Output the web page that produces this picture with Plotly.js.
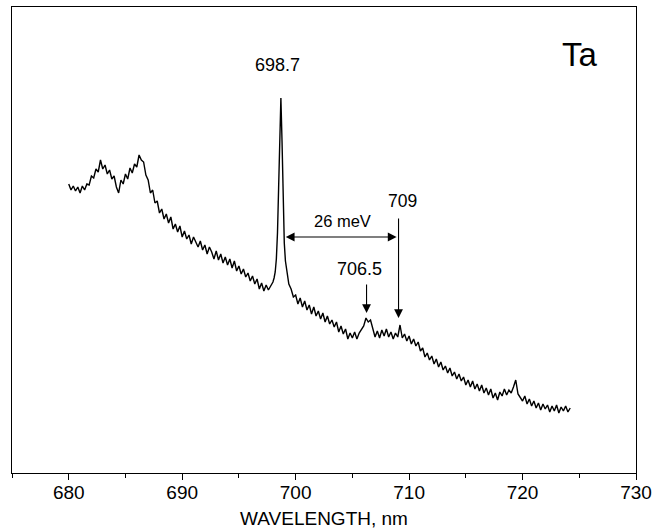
<!DOCTYPE html>
<html><head><meta charset="utf-8">
<script src="https://cdn.plot.ly/plotly-3.0.1.min.js"></script>
<style>body{margin:0;background:#fff}#plot{width:665px;height:531px}</style>
</head><body><div id="plot"></div>
<script>
const wavelength = [
680.0,680.2,680.4,680.6,680.8,681.0,681.2,681.4,681.6,681.8,682.0,682.2,682.4,682.6,682.8,683.0,683.2,683.4,683.6,683.8,
684.0,684.2,684.4,684.6,684.8,685.0,685.2,685.4,685.6,685.8,686.0,686.2,686.4,686.6,686.8,687.0,687.2,687.4,687.6,687.8,
688.0,688.2,688.4,688.6,688.8,689.0,689.2,689.4,689.6,689.8,690.0,690.2,690.4,690.6,690.8,691.0,691.2,691.4,691.6,691.8,
692.0,692.2,692.4,692.6,692.8,693.0,693.2,693.4,693.6,693.8,694.0,694.2,694.4,694.6,694.8,695.0,695.2,695.4,695.6,695.8,
696.0,696.2,696.4,696.6,696.8,697.0,697.2,697.4,697.6,697.8,698.0,698.1,698.2,698.3,698.4,698.5,698.6,698.7,698.8,698.9,
699.0,699.1,699.2,699.4,699.6,699.8,700.0,700.2,700.4,700.6,700.8,701.0,701.2,701.4,701.6,701.8,702.0,702.2,702.4,702.6,
702.8,703.0,703.2,703.4,703.6,703.8,704.0,704.2,704.4,704.6,704.8,705.0,705.2,705.4,705.6,705.8,706.0,706.2,706.4,706.6,
706.8,707.0,707.2,707.4,707.6,707.8,708.0,708.2,708.4,708.6,708.8,709.0,709.2,709.4,709.6,709.8,710.0,710.2,710.4,710.6,
710.8,711.0,711.2,711.4,711.6,711.8,712.0,712.2,712.4,712.6,712.8,713.0,713.2,713.4,713.6,713.8,714.0,714.2,714.4,714.6,
714.8,715.0,715.2,715.4,715.6,715.8,716.0,716.2,716.4,716.6,716.8,717.0,717.2,717.4,717.6,717.8,718.0,718.2,718.4,718.6,
718.8,719.0,719.2,719.4,719.6,719.8,720.0,720.2,720.4,720.6,720.8,721.0,721.2,721.4,721.6,721.8,722.0,722.2,722.4,722.6,
722.8,723.0,723.2,723.4,723.6,723.8,724.0,724.2
];
const intensity = [
289,283,287,282,286,280,287,283,289,288,297,295,304,301,313,304,308,299,303,294,
297,286,280,293,289,299,294,305,300,309,306,318,313,311,298,293,280,283,270,272,
260,264,254,259,250,256,244,249,241,247,236,242,234,238,229,236,231,226,232,223,
228,219,226,221,214,222,213,219,210,216,208,214,205,212,202,207,199,204,196,200,
192,197,189,194,184,190,182,188,183,187,191,195,201,214,240,285,345,375,332,272,
230,212,203,189,184,176,178,169,175,166,172,163,168,159,166,157,162,154,160,151,
157,149,153,146,151,141,147,139,144,134,140,135,141,134,140,144,147,155,151,153,
143,136,142,135,143,137,144,136,141,134,140,136,148,135,139,132,137,129,134,127,
131,122,125,116,120,113,117,109,114,106,111,103,107,100,105,97,101,94,99,92,
96,88,93,86,92,84,89,82,88,80,85,78,84,75,80,73,81,77,84,78,
83,80,86,93,79,76,72,77,69,74,67,72,65,70,63,69,64,68,61,67,
62,68,60,66,62,67,61,65
];
const peakLabels = ["698.7", "706.5", "709"];
const splitLabel = "26 meV";
const elementLabel = "Ta";
const xTickVals = [680, 690, 700, 710, 720, 730];

const font = {family: "Liberation Sans, Arial, sans-serif", color: "#000"};
const f = s => Object.assign({size: s}, font);
const trace = {x: wavelength, y: intensity, type: "scatter", mode: "lines",
  line: {color: "#000", width: 1.4}, hoverinfo: "skip"};
const arrowStyle = {showarrow: true, arrowhead: 2, arrowsize: 1.6, arrowwidth: 1.1, arrowcolor: "#000",
  axref: "x", ayref: "y", xref: "x", yref: "y", text: ""};
const layout = {
  width: 665, height: 531,
  margin: {l: 12, r: 29, t: 7, b: 58},
  paper_bgcolor: "#fff", plot_bgcolor: "#fff",
  showlegend: false,
  font: f(19),
  xaxis: {range: [675, 730], tickvals: xTickVals, ticktext: xTickVals.map(String),
    ticks: "outside", ticklen: 6, tickwidth: 1, tickcolor: "#000", ticklabelstandoff: -4,
    minor: {dtick: 5, tick0: 675, ticks: "outside", ticklen: 4, tickcolor: "#000", tickwidth: 1},
    showline: true, linecolor: "#000", linewidth: 1, mirror: true, showgrid: false, zeroline: false,
    tickfont: f(19),
    title: {text: "WAVELENGTH, nm", font: f(19), standoff: 9}},
  yaxis: {range: [0, 466], showticklabels: false, ticks: "", showline: true, linecolor: "#000",
    linewidth: 1, mirror: true, showgrid: false, zeroline: false},
  annotations: [
    {x: 698.37, y: 408.5, text: peakLabels[0], showarrow: false, font: f(18)},
    {x: 705.6, y: 204, text: peakLabels[1], showarrow: false, font: f(18)},
    {x: 709.4, y: 272, text: peakLabels[2], showarrow: false, font: f(17.5)},
    {x: 704.1, y: 252, text: splitLabel, showarrow: false, font: f(16.5)},
    {x: 725.1, y: 419, text: elementLabel, showarrow: false, font: f(33)},
    Object.assign({}, arrowStyle, {x: 708.9, y: 236, ax: 699.0, ay: 236, arrowside: "end+start"}),
    Object.assign({}, arrowStyle, {x: 709.07, y: 155, ax: 709.07, ay: 256}),
    Object.assign({}, arrowStyle, {x: 706.25, y: 160, ax: 706.25, ay: 190})
  ]
};
Plotly.newPlot("plot", [trace], layout, {staticPlot: true, displayModeBar: false});
</script></body></html>
